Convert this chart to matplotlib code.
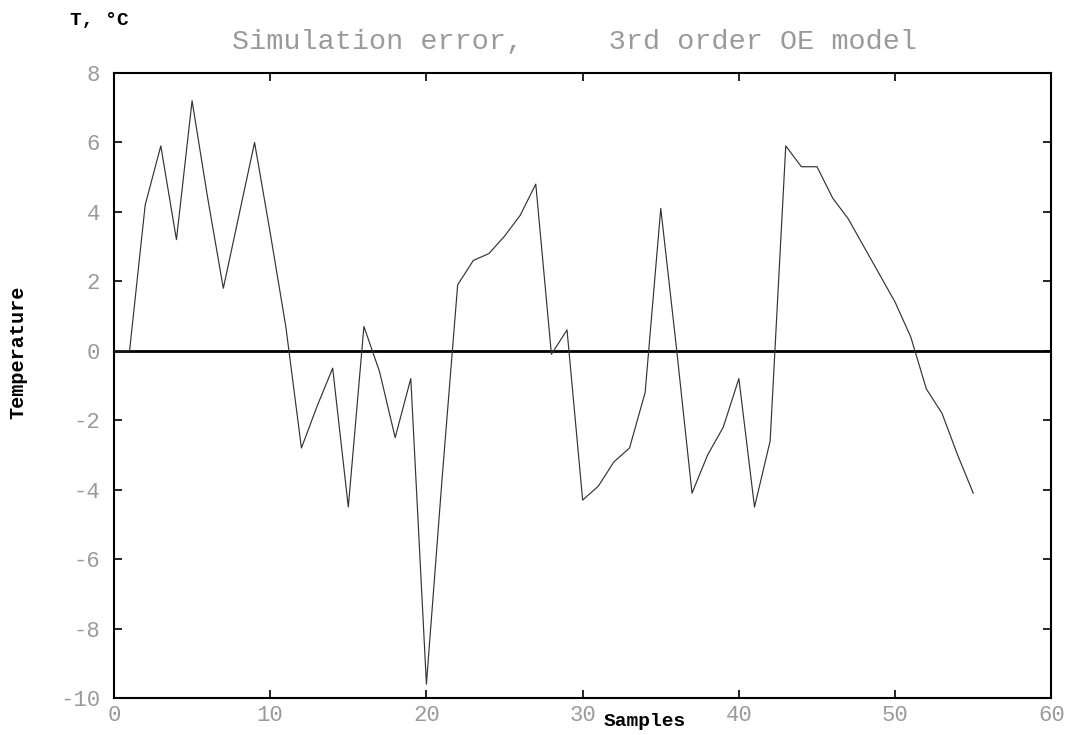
import numpy as np
import matplotlib
matplotlib.use("Agg")
import matplotlib.pyplot as plt

plt.rcParams['axes.unicode_minus'] = False

# simulation error of the 3rd order OE model, one value per sample
samples = np.arange(0, 56)
error = [0.0, 0.0, 4.2, 5.9, 3.2, 7.2, 4.4, 1.8, 3.9, 6.0,
         3.4, 0.7, -2.8, -1.6, -0.5, -4.5, 0.7, -0.6, -2.5, -0.8,
         -9.6, -3.7, 1.9, 2.6, 2.8, 3.3, 3.9, 4.8, -0.1, 0.6,
         -4.3, -3.9, -3.2, -2.8, -1.2, 4.1, 0.1, -4.1, -3.0, -2.2,
         -0.8, -4.5, -2.6, 5.9, 5.3, 5.3, 4.4, 3.8, 3.0, 2.2,
         1.4, 0.4, -1.1, -1.8, -3.0, -4.1]

xticks = [0, 10, 20, 30, 40, 50, 60]
yticks = [-10, -8, -6, -4, -2, 0, 2, 4, 6, 8]

light = dict(family=['Liberation Mono', 'DejaVu Sans Mono'], color='#9a9a9a')
bold = dict(family=['Liberation Mono', 'DejaVu Sans Mono'], color='black', fontweight='bold')

fig = plt.figure(figsize=(10.75, 7.35), dpi=100)
ax = fig.add_axes([0.106, 0.0503, 0.872, 0.8504])

ax.axhline(0, color='black', lw=2.0, zorder=2)
ax.plot(samples, error, color='#333333', lw=0.85, zorder=3)

ax.set_xlim(0, 60)
ax.set_ylim(-10, 8)
ax.set_xticks(xticks)
ax.set_yticks(yticks)
ax.set_xticklabels([str(t) for t in xticks], fontsize=16, **light)
ax.set_yticklabels([str(t) for t in yticks], fontsize=16, **light)
ax.tick_params(direction='in', length=6, width=1.2, top=True, right=True,
               colors='black', labelcolor='#9a9a9a')
ax.tick_params(axis='x', pad=5)
ax.tick_params(axis='y', pad=10)
for s in ax.spines.values():
    s.set_linewidth(1.5)

fig.text(574 / 1075, 1 - 42 / 735, "Simulation error,     3rd order OE model",
         ha='center', va='center', fontsize=20.5, **light)
fig.text(70 / 1075, 1 - 20 / 735, "T, °C", ha='left', va='center', fontsize=14, **bold)
fig.text(18 / 1075, 1 - 352 / 735, "Temperature", ha='center', va='center',
         rotation=90, fontsize=14.5, **bold)
fig.text(604 / 1075, 1 - 722 / 735, "Samples", ha='left', va='center', fontsize=14, **bold)

fig.savefig("out.png", dpi=100)
